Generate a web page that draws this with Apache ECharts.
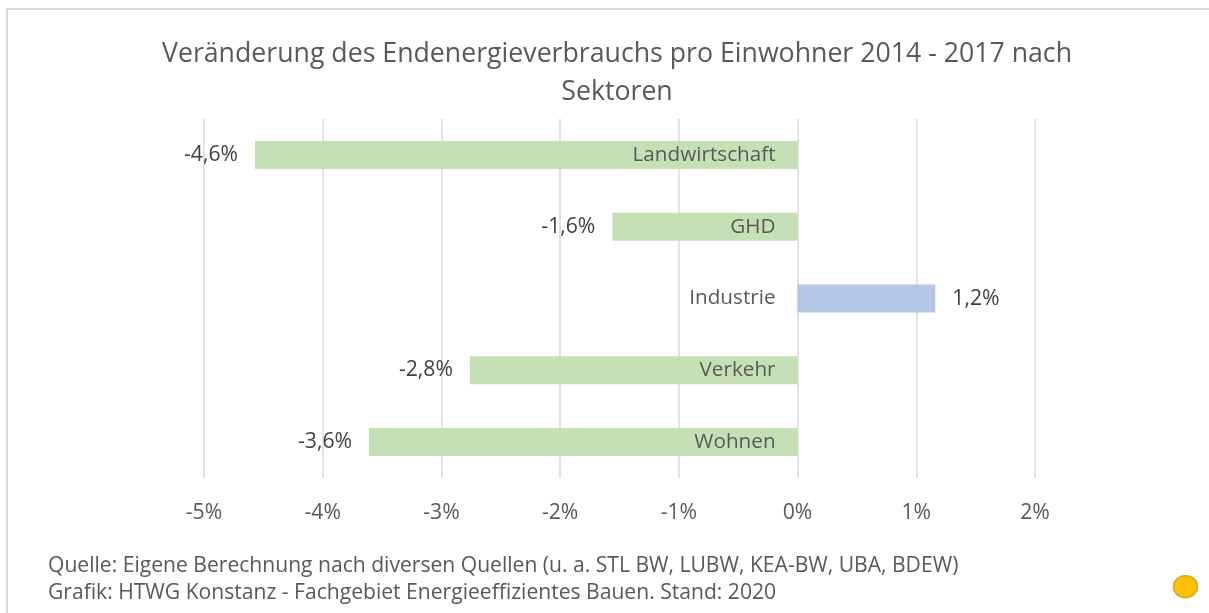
<!DOCTYPE html>
<html>
<head>
<meta charset="utf-8">
<script src="https://cdn.jsdelivr.net/npm/echarts@6/dist/echarts.min.js"></script>
<style>
  html, body { margin: 0; padding: 0; background: #fff; }
  #chart { width: 1209px; height: 613px; }
</style>
</head>
<body>
<div id="chart"></div>
<script>
// Sektoren, von oben nach unten
const sectors = ['Landwirtschaft', 'GHD', 'Industrie', 'Verkehr', 'Wohnen']
// Veränderung in Prozent
const changes = [-4.57, -1.56, 1.16, -2.76, -3.61]
const tickMin = -5
const tickMax = 2
const titleText = 'Veränderung des Endenergieverbrauchs pro Einwohner 2014 - 2017 nach\nSektoren'
const sourceLines = [
  'Quelle: Eigene Berechnung nach diversen Quellen (u. a. STL BW, LUBW, KEA-BW, UBA, BDEW)',
  'Grafik: HTWG Konstanz - Fachgebiet Energieeffizientes Bauen. Stand: 2020'
]

const FONT = '"Open Sans", "Noto Sans", sans-serif'
const TEXT = '#595959'

// Schriftgröße so wählen, dass der Text die Breite aus der Vorlage hat
let ctx = document.createElement('canvas').getContext('2d')
function fitSize(text, width) {
  ctx.font = '100px ' + FONT
  return Math.round(100 * width / ctx.measureText(text).width * 10) / 10
}
let titleSize = fitSize(titleText.split('\n')[0], 910)
let footSize = fitSize(sourceLines[0], 912)
let catSize = fitSize('Landwirtschaft', 143)
let valSize = fitSize('-4,6%', 54)

function pct(v) {
  return v.toFixed(1).replace('.', ',') + '%'
}

let chart = echarts.init(document.getElementById('chart'))
chart.setOption({
  animation: false,
  textStyle: { fontFamily: FONT },
  title: {
    text: titleText,
    left: 612,
    top: 30,
    textAlign: 'center',
    textStyle: {
      fontFamily: FONT,
      fontWeight: 'normal',
      fontSize: titleSize,
      lineHeight: 38,
      color: TEXT
    }
  },
  grid: { left: 204, right: 174, top: 119, bottom: 135 },
  xAxis: {
    type: 'value',
    min: tickMin,
    max: tickMax,
    interval: 1,
    axisLine: { show: false },
    axisTick: { show: false },
    splitLine: { lineStyle: { color: '#d9d9d9', width: 1.5 } },
    axisLabel: {
      color: TEXT,
      fontSize: valSize,
      margin: 24,
      formatter: v => v + '%'
    }
  },
  yAxis: {
    type: 'category',
    inverse: true,
    data: sectors,
    axisLine: { show: false },
    axisTick: { show: false },
    axisLabel: { show: false }
  },
  series: [
    {
      type: 'bar',
      barWidth: 28,
      data: changes.map(v => ({
        value: v,
        itemStyle: { color: v < 0 ? '#c5e0b4' : '#b4c7e7' },
        label: { position: v < 0 ? 'left' : 'right' }
      })),
      label: {
        show: true,
        distance: 17,
        color: '#404040',
        fontSize: valSize,
        formatter: p => pct(p.value)
      }
    },
    {
      // Sektornamen an der Nulllinie
      type: 'scatter',
      symbolSize: 0,
      z: 10,
      silent: true,
      itemStyle: { opacity: 1 },
      data: sectors.map(s => [0, s]),
      label: {
        show: true,
        position: 'left',
        distance: 22,
        color: TEXT,
        opacity: 1,
        fontSize: catSize,
        formatter: p => p.value[1]
      }
    }
  ],
  graphic: [
    {
      type: 'polyline',
      shape: { points: [[7, 640], [7, 9], [1230, 9]] },
      style: { fill: null, stroke: '#d9d9d9', lineWidth: 2 },
      silent: true
    },
    {
      type: 'text',
      left: 48,
      top: 570 - footSize * 0.7,
      style: { text: sourceLines[0], fill: TEXT, font: footSize + 'px ' + FONT }
    },
    {
      type: 'text',
      left: 48,
      top: 597 - footSize * 0.7,
      style: { text: sourceLines[1], fill: TEXT, font: footSize + 'px ' + FONT }
    },
    {
      type: 'ellipse',
      shape: { cx: 1185.5, cy: 586.7, rx: 12, ry: 11 },
      style: { fill: '#ffc000', stroke: '#d4a82a', lineWidth: 1.5 }
    }
  ]
})
</script>
</body>
</html>
